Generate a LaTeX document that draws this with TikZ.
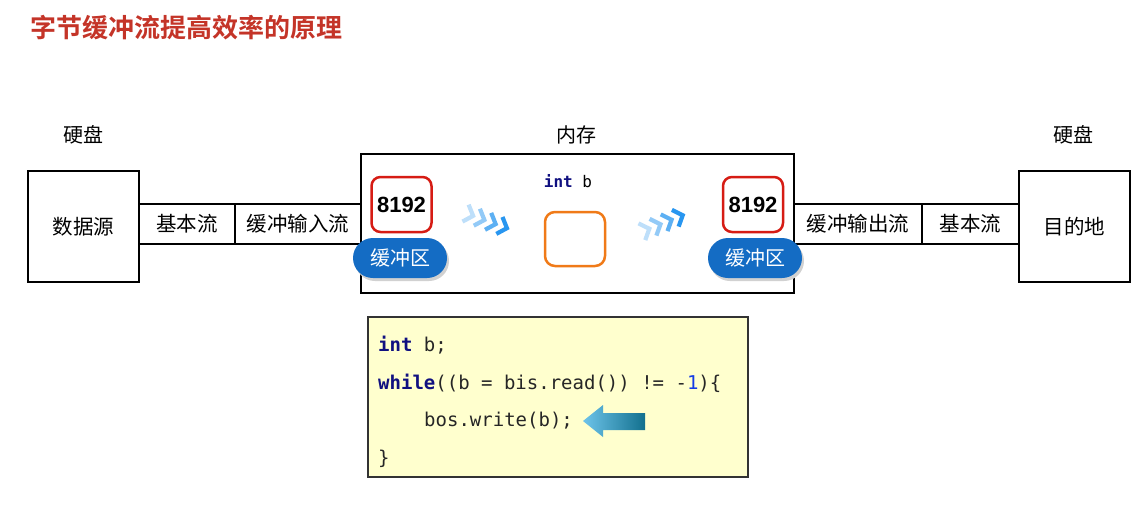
\documentclass[tikz,border=0pt]{standalone}
\usepackage{fontspec}
\setmainfont{Liberation Sans}
\setmonofont{DejaVu Sans Mono}
\newfontfamily\cjk{Noto Sans CJK SC}
\newfontfamily\cjkbold{Noto Sans CJK SC Bold}
\usetikzlibrary{calc}
\definecolor{titlered}{RGB}{196,52,40}
\definecolor{bufred}{RGB}{214,28,20}
\definecolor{pillblue}{RGB}{20,108,196}
\definecolor{varorange}{RGB}{240,122,24}
\definecolor{codebg}{RGB}{255,255,206}
\definecolor{kwnavy}{RGB}{16,16,128}
\definecolor{numblue}{RGB}{20,60,230}
\definecolor{chev}{RGB}{40,150,240}
\tikzset{
  box/.style={draw=black, line width=2.5pt, fill=white, inner sep=0pt},
  streambox/.style={box, minimum height=40pt, font=\cjk\fontsize{20.5}{22}\selectfont},
  buffer/.style={draw=bufred, line width=2.5pt, rounded corners=9pt, minimum width=60pt, minimum height=55pt, font=\fontsize{22}{24}\selectfont\bfseries, inner sep=0pt},
  pill/.style={fill=pillblue, rounded corners=20pt, minimum width=94pt, minimum height=40pt, text=white, font=\cjk\fontsize{20}{22}\selectfont, inner sep=0pt},
  pillshadow/.style={fill=black!18, rounded corners=20pt, minimum width=94pt, minimum height=40pt, inner sep=0pt},
  label/.style={font=\cjk\fontsize{20}{22}\selectfont, inner sep=0pt},
  codeline/.style={anchor=west, inner sep=0pt, font=\ttfamily\fontsize{19}{22}\selectfont, text=black!85},
  chevron/.style={draw=chev, line width=4.2pt, line cap=butt, line join=miter},
}
\newcommand{\kw}[1]{\textcolor{kwnavy}{\bfseries #1}}
\begin{document}
\begin{tikzpicture}[x=1pt,y=-1pt]
\useasboundingbox (0,0) rectangle (1147,509);

% title
\node[anchor=west, inner sep=0pt, text=titlered, font=\cjkbold\fontsize{26}{28}\selectfont] (title) at (30,28) {字节缓冲流提高效率的原理};

% section labels
\node[label] (diskL) at (83,135) {硬盘};
\node[label] (mem) at (576,135) {内存};
\node[label] (diskR) at (1073,135) {硬盘};

% memory frame
\node[box, minimum width=433pt, minimum height=139pt] (memory) at (577.5,223.5) {};

% source and destination
\node[box, minimum width=111pt, minimum height=111pt, font=\cjk\fontsize{20.5}{22}\selectfont] (src) at (83.5,226.5) {数据源};
\node[box, minimum width=111pt, minimum height=111pt, font=\cjk\fontsize{20.5}{22}\selectfont] (dst) at (1074.5,226.5) {目的地};

% stream chain, input side
\node[streambox, minimum width=96pt] (basicIn) at (187,224) {基本流};
\node[streambox, minimum width=126pt] (bufIn) at (298,224) {缓冲输入流};
% stream chain, output side
\node[streambox, minimum width=128pt] (bufOut) at (858,224) {缓冲输出流};
\node[streambox, minimum width=97pt] (basicOut) at (970.5,224) {基本流};

% input buffer
\node[buffer] (bufL) at (401.5,204.5) {8192};
\node[pillshadow] at (402,261) {};
\node[pill] (pillL) at (400,258) {缓冲区};

% output buffer
\node[buffer] (bufR) at (753,204.5) {8192};
\node[pillshadow] at (757,261) {};
\node[pill] (pillR) at (755,258) {缓冲区};

% the int variable
\node[inner sep=0pt, font=\ttfamily\fontsize{16}{18}\selectfont] (intb) at (568,181) {\kw{int} b};
\node[draw=varorange, line width=2.5pt, rounded corners=10pt, minimum width=60pt, minimum height=54pt] (var) at (575,239) {};

% chevrons: buffer -> variable
\begin{scope}[shift={(490,222)}, rotate=-20]
  \draw[chevron, draw opacity=0.3] (-26,-9) -- (-18,0) -- (-26,9);
  \draw[chevron, draw opacity=0.5] (-14,-9) -- (-6,0) -- (-14,9);
  \draw[chevron, draw opacity=0.75] (-2,-9) -- (6,0) -- (-2,9);
  \draw[chevron] (10,-9) -- (18,0) -- (10,9);
\end{scope}
% chevrons: variable -> buffer
\begin{scope}[shift={(666,222)}, rotate=22]
  \draw[chevron, draw opacity=0.3] (-26,-9) -- (-18,0) -- (-26,9);
  \draw[chevron, draw opacity=0.5] (-14,-9) -- (-6,0) -- (-14,9);
  \draw[chevron, draw opacity=0.75] (-2,-9) -- (6,0) -- (-2,9);
  \draw[chevron] (10,-9) -- (18,0) -- (10,9);
\end{scope}

% code panel
\node[draw=black!80, line width=1.5pt, fill=codebg, minimum width=380pt, minimum height=160pt, inner sep=0pt] (code) at (558,397) {};
\node[codeline] (l1) at (378,345) {\kw{int} b;};
\node[codeline] (l2) at (378,383) {\kw{while}((b = bis.read()) != -\textcolor{numblue}{1})\{};
\node[codeline] (l3) at (424,421) {bos.write(b);};
\node[codeline] (l4) at (378,459) {\}};

% pointer arrow at the write call
\shade[left color={rgb,255:red,110;green,196;blue,234}, right color={rgb,255:red,18;green,112;blue,142}]
  (583,421) -- (603,405) -- (603,413) -- (645,413) -- (645,430) -- (603,430) -- (603,437) -- cycle;
\end{tikzpicture}
\end{document}
